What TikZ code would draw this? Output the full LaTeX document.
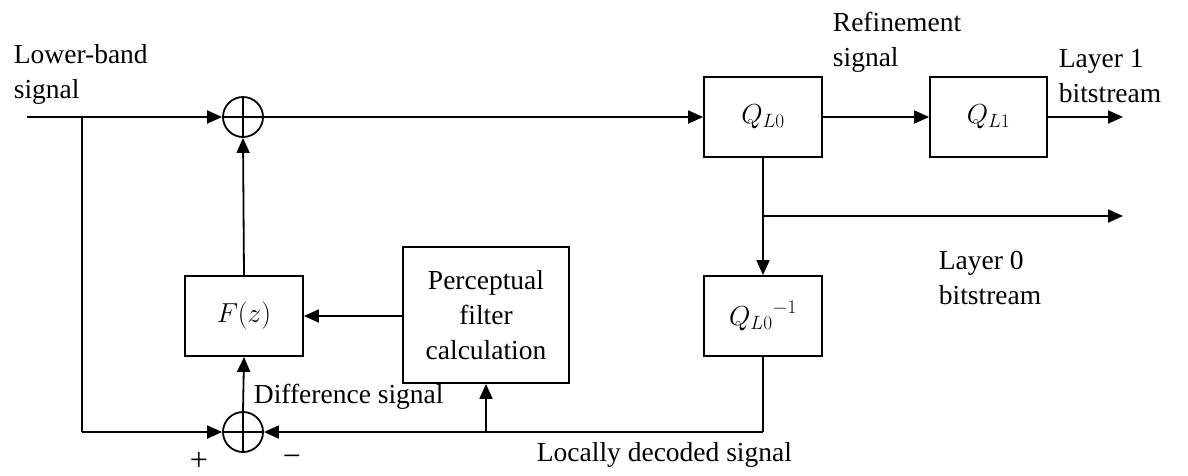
\RequirePackage{fix-cm}
\documentclass[tikz,border=0pt]{standalone}
\usepackage{fontspec}
\setmainfont{Liberation Serif}
\usetikzlibrary{arrows.meta}
\begin{document}
\begin{tikzpicture}[x=1pt,y=-1pt,
  font=\fontsize{27.5}{35}\selectfont,
  line width=1.8pt,
  arr/.style={-{Triangle[length=15pt,width=13pt]}},
  blk/.style={draw,line width=1.8pt,inner sep=0pt,minimum width=118pt,minimum height=80pt},
  sumnode/.style={draw,circle,line width=1.8pt,minimum size=40pt,inner sep=0pt,
    path picture={\draw[line width=1.8pt] (path picture bounding box.north) -- (path picture bounding box.south)
      (path picture bounding box.west) -- (path picture bounding box.east);}},
  lbl/.style={anchor=west,align=left,inner sep=0pt},
  sgn/.style={inner sep=0pt,font=\fontsize{32}{36}\selectfont}]
\useasboundingbox (0,0) rectangle (1188,475);
% nodes
\node[sumnode] (s1) at (243,117) {};
\node[sumnode] (s2) at (243,432) {};
\coordinate (in) at (27,117);
\coordinate (j1) at (82,117);
\coordinate (j2) at (82,432);
\node[blk] (q0) at (763,117) {$Q_{L0}$};
\node[blk,minimum width=117pt] (q1) at (988.5,117) {$Q_{L1}$};
\coordinate (out1) at (1123,117);
\coordinate (b1) at (763,216);
\coordinate (out0) at (1123,216);
\node[blk] (qi) at (763,316) {${Q_{L0}}^{-1}$};
\coordinate (c1) at (763,432);
\coordinate (c2) at (486,432);
\node[blk,minimum width=166pt,minimum height=136pt,align=center] (pf) at (486,315) {Perceptual\\filter\\calculation};
\node[blk] (fz) at (244,316) {$F(z)$};
% connectors
\draw (in) -- (j1);
\draw[arr] (j1) -- (s1.west);
\draw[arr] (s1.east) -- (q0.west);
\draw[arr] (q0.east) -- (q1.west);
\draw[arr] (q1.east) -- (out1);
\draw[arr] (q0.south) -- (qi.north);
\draw[arr] (b1) -- (out0);
\draw (qi.south) -- (c1);
\draw[arr] (c1) -- (s2.east);
\draw[arr] (c2) -- (pf.south);
\draw[arr] (pf.west |- fz.east) -- (fz.east);
\draw[arr] (fz.north) -- (s1.south);
\draw[arr] (s2.north) -- (fz.south);
\draw (j1) -- (j2);
\draw[arr] (j2) -- (s2.west);
% labels
\node[lbl] (t1) at (13,74) {Lower-band\\signal};
\node[lbl] (t2) at (832,42) {Refinement\\signal};
\node[lbl] (t3) at (1058,76) {Layer 1\\bitstream};
\node[lbl] (t4) at (938,278) {Layer 0\\bitstream};
\node[lbl] (t5) at (253,397) {Difference signal};
\node[lbl] (t6) at (536,455) {Locally decoded signal};
\node[sgn] (p) at (199,461) {+};
\node[sgn] (m) at (292,461) {−};
\end{tikzpicture}
\end{document}
